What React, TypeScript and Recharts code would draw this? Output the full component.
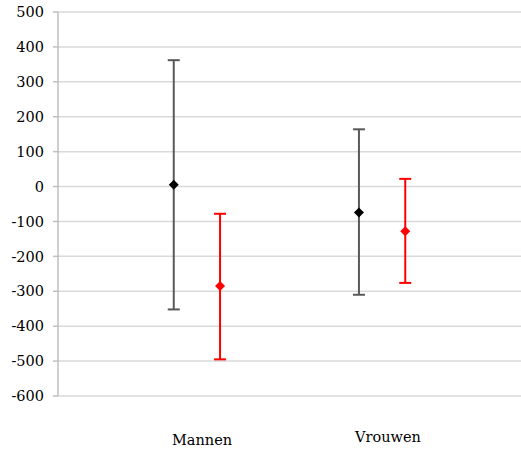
import {
    CartesianGrid,
    ComposedChart,
    ErrorBar,
    Scatter,
    XAxis,
    YAxis,
} from 'recharts';

const categories = ['Mannen', 'Vrouwen'];
const blackX = [2.5, 6.5];
const redX = [3.5, 7.5];
const blackMean = [5, -74];
const blackLow = [-352, -310];
const blackHigh = [362, 164];
const redMean = [-285, -128];
const redLow = [-495, -276];
const redHigh = [-78, 22];
const yTicks = [500, 400, 300, 200, 100, 0, -100, -200, -300, -400, -500, -600];

const toPoints = (xs: number[], mean: number[], low: number[], high: number[]) =>
    xs.map((x, i) => ({
        x,
        y: mean[i],
        err: [mean[i] - low[i], high[i] - mean[i]],
    }));

const blackData = toPoints(blackX, blackMean, blackLow, blackHigh);
const redData = toPoints(redX, redMean, redLow, redHigh);

const Diamond = (color: string) => (props: any) => {
    const { cx, cy } = props;
    const r = 5;
    return (
        <polygon
            points={`${cx},${cy - r} ${cx + r},${cy} ${cx},${cy + r} ${cx - r},${cy}`}
            fill={color}
        />
    );
};

const font = '"DejaVu Serif", serif';

export default function App() {
    return (
        <div style={{ position: 'absolute', left: 0, top: 0, width: 521, height: 457, background: '#fff' }}>
            <ComposedChart
                width={521}
                height={457}
                margin={{ top: 12, right: 0, bottom: 61, left: 0 }}
            >
                <CartesianGrid vertical={false} stroke="#d9d9d9" strokeWidth={1.5} />
                <XAxis type="number" dataKey="x" domain={[0, 10]} hide />
                <YAxis
                    type="number"
                    domain={[-600, 500]}
                    ticks={yTicks}
                    interval={0}
                    width={58}
                    stroke="#bfbfbf"
                    strokeWidth={1.5}
                    tickSize={5}
                    tickMargin={9}
                    tick={{ fontSize: 14.5, fill: '#000', fontFamily: font }}
                />
                <Scatter data={blackData} dataKey="y" shape={Diamond('#000')} isAnimationActive={false}>
                    <ErrorBar dataKey="err" direction="y" width={6} stroke="#595959" strokeWidth={2} />
                </Scatter>
                <Scatter data={redData} dataKey="y" shape={Diamond('#ff0000')} isAnimationActive={false}>
                    <ErrorBar dataKey="err" direction="y" width={6} stroke="#ff0000" strokeWidth={2} />
                </Scatter>
            </ComposedChart>
            <div style={{ position: 'absolute', left: 172, top: 432, fontFamily: font, fontSize: 14.5 }}>
                {categories[0]}
            </div>
            <div style={{ position: 'absolute', left: 355, top: 429, fontFamily: font, fontSize: 14.5 }}>
                {categories[1]}
            </div>
        </div>
    );
}
